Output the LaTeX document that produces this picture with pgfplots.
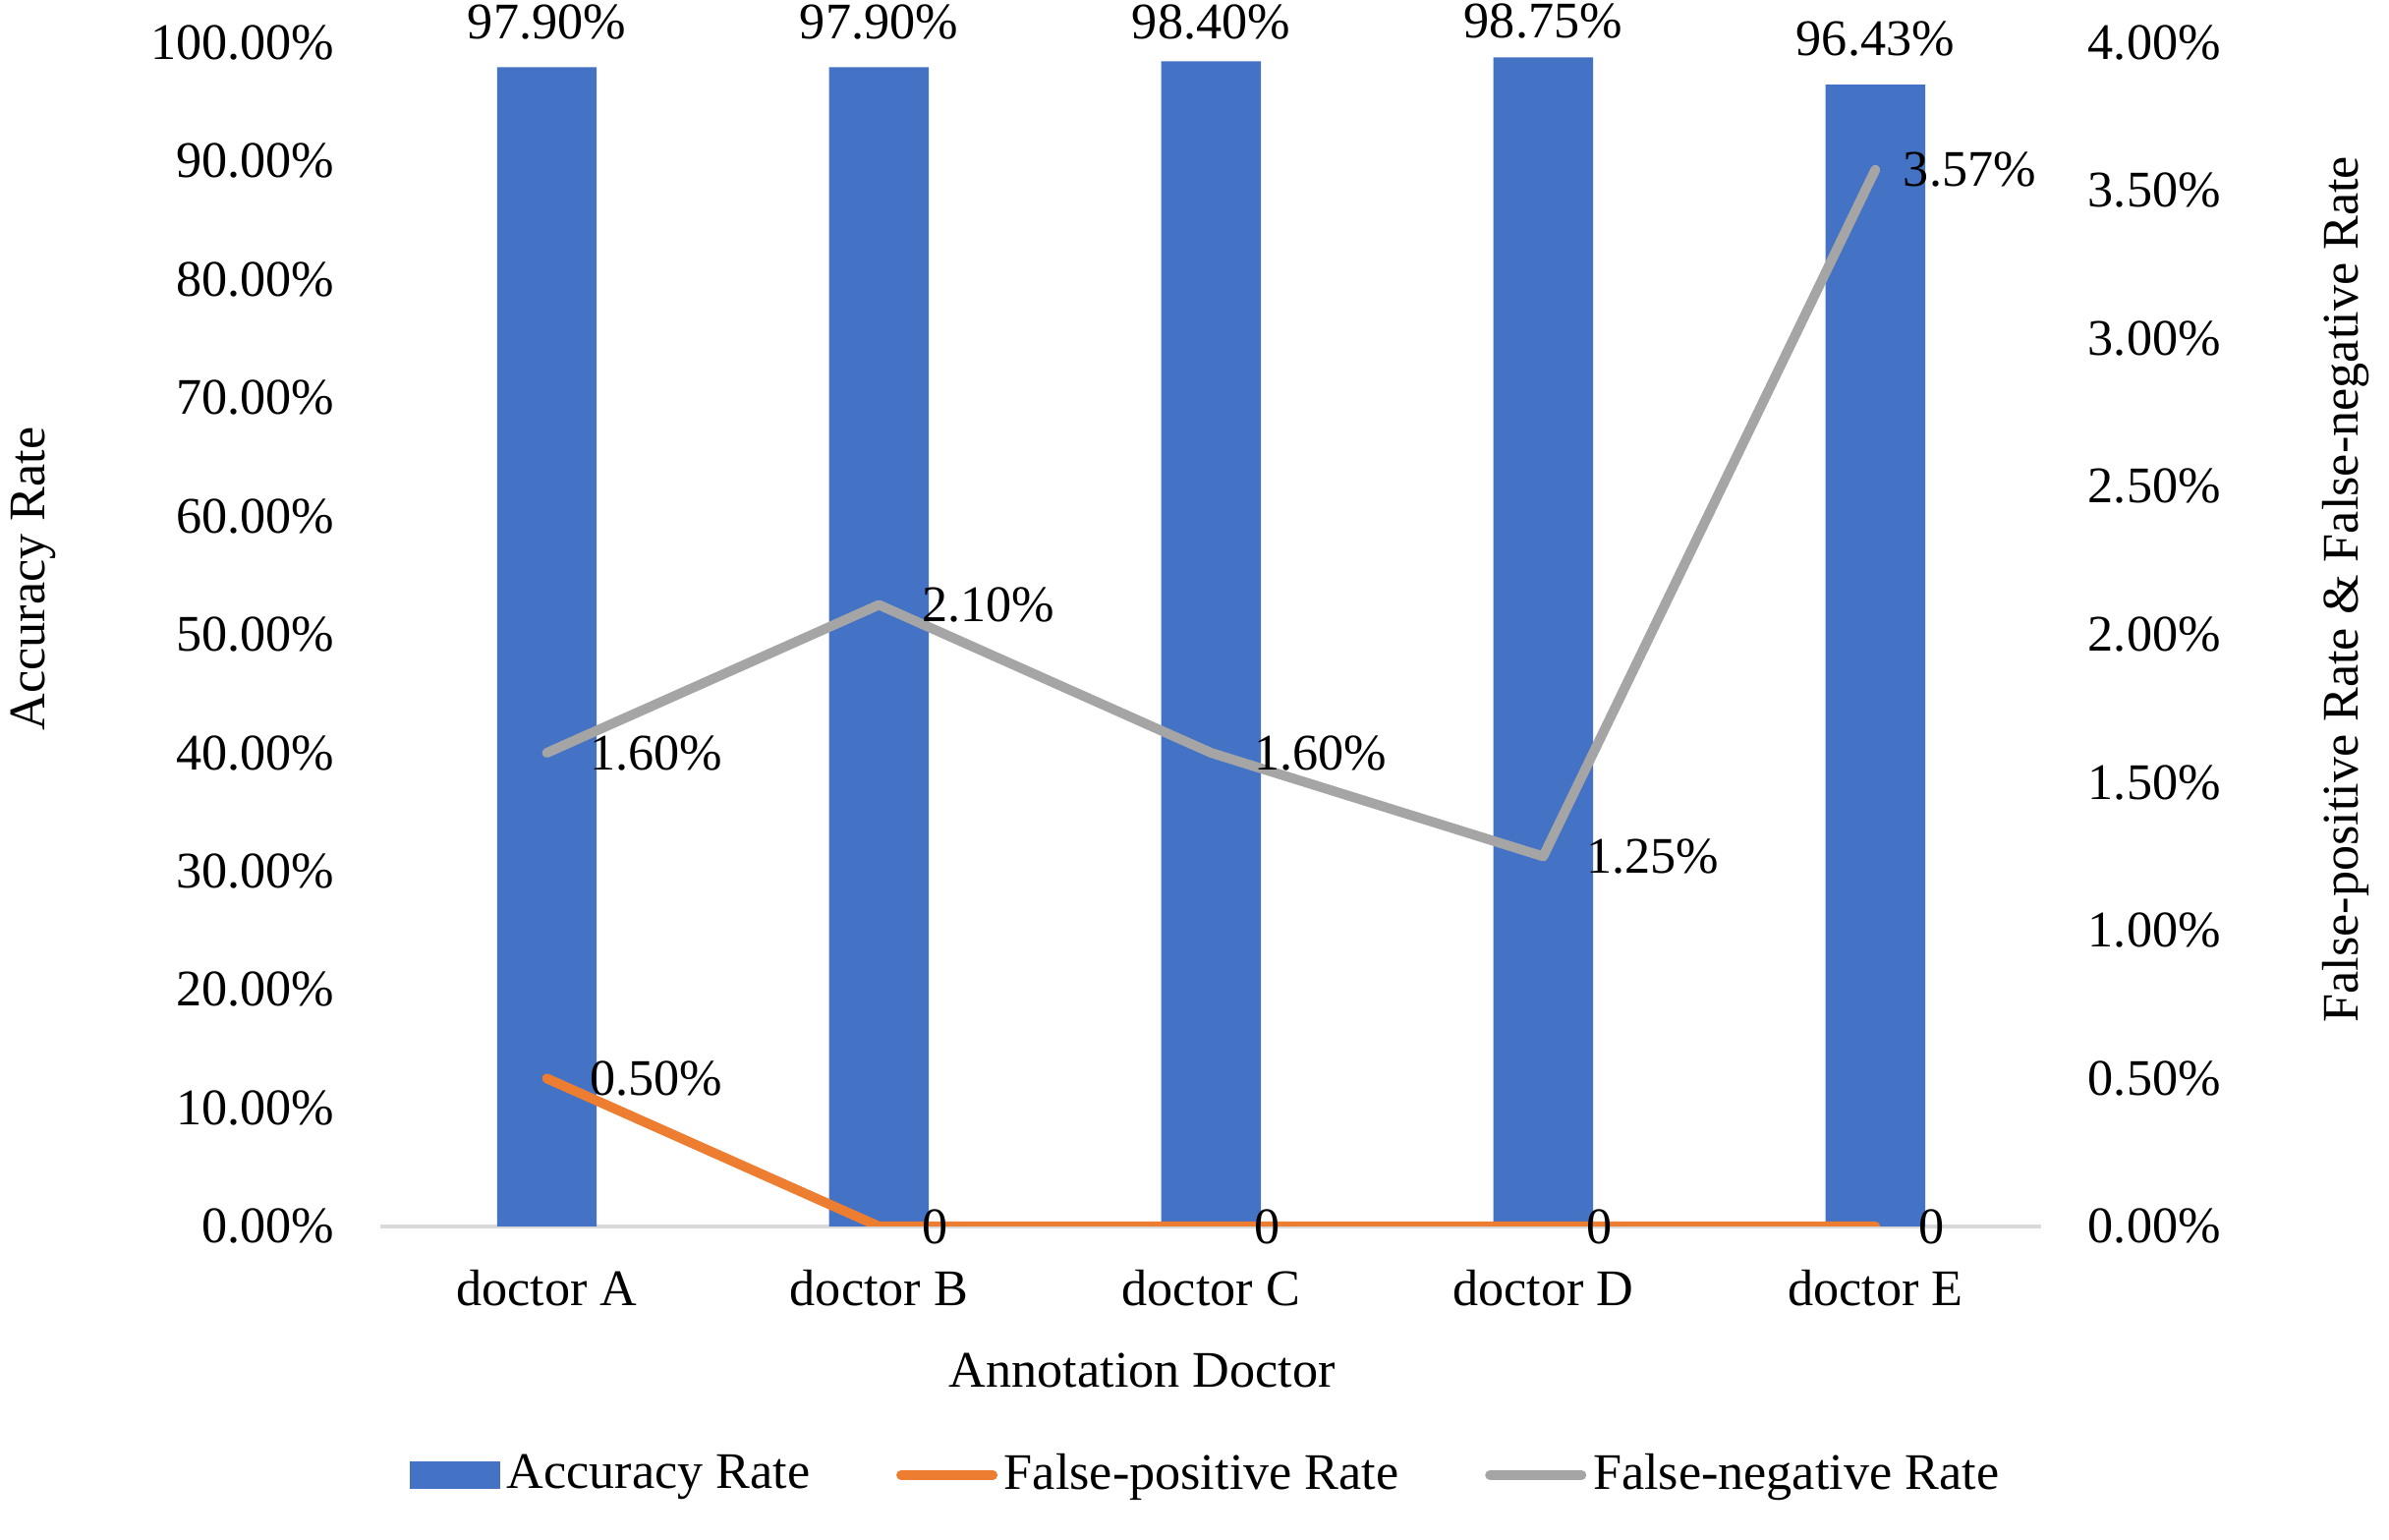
\documentclass[border=0pt]{standalone}
\usepackage{pgfplots}
\pgfplotsset{compat=1.18}
\usepackage{pgfplotstable}
\usepackage{fontspec}
\setmainfont{Liberation Serif}
\definecolor{accblue}{HTML}{4472C4}
\definecolor{fporange}{HTML}{ED7D31}
\definecolor{fngray}{HTML}{A5A5A5}
\definecolor{basegray}{HTML}{D9D9D9}
\newcommand\dn[2]{\raisebox{-#1pt}{#2}}
\newcommand\lf[2]{\kern-#1pt#2}

\pgfplotstableread{
x acc lab
0 97.90 97.90\%
1 97.90 97.90\%
2 98.40 \dn{1.4}{98.40\%}
3 98.75 \dn{2.1}{98.75\%}
4 96.43 96.43\%
}\acctable
\pgfplotstableread{
x fp lab
0 0.50 0.50\%
1 0 0
2 0 0
3 0 0
4 0 0
}\fptable
\pgfplotstableread{
x fn lab
0 1.60 1.60\%
1 2.10 2.10\%
2 1.60 1.60\%
3 1.25 1.25\%
4 3.57 \lf{3.4}{3.57\%}
}\fntable

\begin{document}
\fontsize{11.6}{13.9}\selectfont
\begin{tikzpicture}[font=\fontsize{11.6}{13.9}\selectfont]
\path[use as bounding box] (0,0) rectangle (540.2pt,348.2pt);
\begin{axis}[
  at={(86.1pt,70.9pt)}, anchor=south west,
  width=375.5pt, height=267.7pt, scale only axis,
  xmin=-0.5, xmax=4.5, ymin=0, ymax=100,
  enlargelimits=false,
  xtick={0,1,2,3,4},
  xticklabels={doctor A, doctor B, doctor C, doctor D, doctor E},
  ytick={0,10,20,30,40,50,60,70,80,90,100},
  yticklabels={0.00\%,10.00\%,20.00\%,30.00\%,40.00\%,50.00\%,60.00\%,70.00\%,80.00\%,90.00\%,100.00\%},
  axis x line*=bottom, axis y line*=left,
  x axis line style={draw=basegray, line width=0.8pt, -},
  y axis line style={draw=none},
  major tick length=0pt,
  xticklabel style={yshift=-5.9pt},
  yticklabel style={xshift=-6.4pt},
  xlabel={Annotation Doctor},
  ylabel={Accuracy Rate},
  every axis x label/.style={at={(axis description cs:0.4586,-0.122)}, anchor=center},
  every axis y label/.style={at={(axis description cs:-0.209,0.547)}, anchor=center, rotate=90},
]
\addplot[ybar, bar width=0.3, fill=accblue, draw=none,
  nodes near coords, point meta=explicit symbolic,
  nodes near coords style={anchor=base, yshift=6.5pt, text=black}]
  table[x=x, y=acc, meta=lab] {\acctable};
\end{axis}
\begin{axis}[
  at={(86.1pt,70.9pt)}, anchor=south west,
  width=375.5pt, height=267.7pt, scale only axis,
  xmin=-0.5, xmax=4.5, ymin=0, ymax=4,
  enlargelimits=false,
  axis x line=none, axis y line*=right,
  y axis line style={draw=none},
  major tick length=0pt,
  ytick={0,0.5,1,1.5,2,2.5,3,3.5,4},
  yticklabels={0.00\%,0.50\%,1.00\%,1.50\%,2.00\%,2.50\%,3.00\%,3.50\%,4.00\%},
  yticklabel style={xshift=6.5pt},
  ylabel={False-positive Rate \& False-negative Rate},
  every axis y label/.style={at={(axis description cs:1.183,0.538)}, anchor=center, rotate=90},
  legend style={at={(axis description cs:0.498,-0.210)}, anchor=center, draw=none, fill=none,
    legend columns=3, /tikz/every even column/.append style={column sep=18pt},
    nodes={inner sep=1.5pt}},
  legend image code/.code={\draw[#1, line cap=round] (0pt,0pt) -- (20.7pt,0pt);},
]
\addlegendimage{legend image code/.code={\fill[accblue] (0pt,-3pt) rectangle (20pt,3pt);}}
\addlegendentry{Accuracy Rate}
\addplot[fporange, line width=2.2pt, line cap=round, line join=round, mark=none,
  nodes near coords, point meta=explicit symbolic,
  nodes near coords style={anchor=west, xshift=4.8pt, text=black}]
  table[x=x, y=fp, meta=lab] {\fptable};
\addlegendentry{False-positive Rate}
\addplot[fngray, line width=2.2pt, line cap=round, line join=round, mark=none,
  nodes near coords, point meta=explicit symbolic,
  nodes near coords style={anchor=west, xshift=4.8pt, text=black}]
  table[x=x, y=fn, meta=lab] {\fntable};
\addlegendentry{False-negative Rate}
\end{axis}
\end{tikzpicture}
\end{document}
